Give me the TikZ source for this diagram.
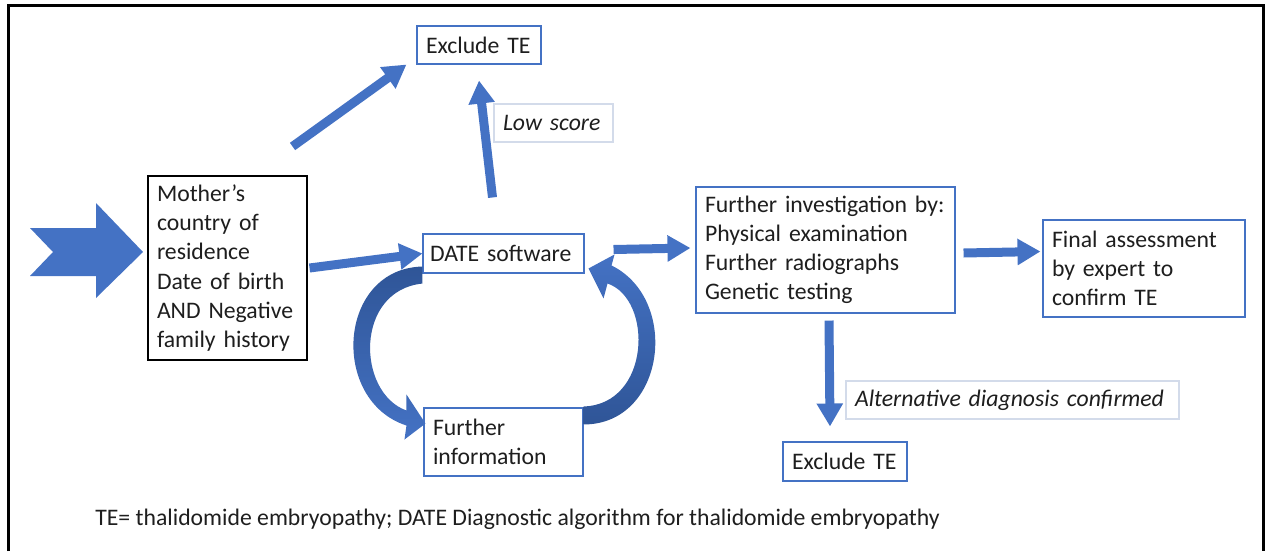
\documentclass[tikz,border=0pt]{standalone}
\usepackage{fontspec}
\setmainfont{Carlito}
\usetikzlibrary{arrows.meta,calc}
\definecolor{bluOffice}{HTML}{4472C4}
\definecolor{bluScuro}{HTML}{2F5597}
\definecolor{bordoTenue}{HTML}{D3DBEA}
\definecolor{testo}{HTML}{1E1E1E}
\newdimen\px \px=0.02cm
\hyphenpenalty=10000

\begin{document}
\begin{tikzpicture}[
			x=0.02cm, y=-0.02cm,
			font=\fontsize{13.5}{16.6}\selectfont, text=testo,
			riquadro/.style={draw=bluOffice, line width=0.6pt, fill=white,
				inner xsep=9\px, inner ysep=0pt, align=left},
			etichetta/.style={riquadro, draw=bordoTenue, line width=1.2pt,
				font=\fontsize{13.5}{16.6}\selectfont\itshape},
			freccia/.style={draw=bluOffice, line width=9\px,
				-{Triangle[length=0.46cm, width=0.5cm]}},
			curva/.style={draw=none}]
			\useasboundingbox (0,0) rectangle (1266,551);
			
			%% cornice
			\draw[line width=3\px] (8,551) -- (8,5) -- (1263,5) -- (1263,551);
			
			%% freccia di ingresso
			\fill[bluOffice] (30,228) -- (96,228) -- (96,203) -- (143,252)
				-- (96,298) -- (96,276) -- (30,276) -- (53,252) -- cycle;
			
			%% riquadri
			\node[riquadro, draw=black, text width=141\px, minimum height=184\px]
				(madre) at (227.5,268) {Mother’s\\country of\\residence\\Date of birth\\AND Negative\\family history};
			\node[riquadro, inner xsep=7\px, text width=147\px, minimum height=39\px] (date) at (503.5,253.5) {DATE software};
			\node[riquadro, text width=141\px, minimum height=68\px] (info) at (503.5,442) {Further\\information};
			\node[riquadro, text width=106\px, minimum height=38\px] (escl1) at (479,45) {Exclude TE};
			\node[etichetta, text width=101\px, minimum height=38\px] (basso) at (553.5,123) {Low score};
			\node[riquadro, text width=241\px, minimum height=126\px] (indagine) at (825.5,250)
				{Further investigation by:\\Physical examination\\Further radiographs\\Genetic testing};
			\node[riquadro, text width=184\px, minimum height=97\px] (finale) at (1144,268.5)
				{Final assessment\\by expert to\\confirm TE};
			\node[etichetta, text width=315\px, minimum height=38\px] (alt) at (1012.5,400) {Alternative diagnosis confirmed};
			\node[riquadro, text width=106\px, minimum height=39\px] (escl2) at (845,461.5) {Exclude TE};
			
			%% nota
			\node[anchor=west, inner sep=0pt] (nota) at (95,519)
				{TE= thalidomide embryopathy; DATE Diagnostic algorithm for thalidomide embryopathy};
			
			%% frecce dritte
			\draw[freccia] ($(madre.east)+(2,0)$) -- (date.west);
			\draw[freccia] ($(madre.north east)+(-15,-29)$) -- ($(escl1.south west)+(-10,0)$);
			\draw[freccia] ($(date.north)+(-11,-36)$) -- ($(escl1.south)+(0,16)$);
			\draw[freccia] ($(date.east)+(29,-4)$) -- ($(indagine.west)+(-5,-2)$);
			\draw[freccia] ($(indagine.east)+(8,3)$) -- ($(finale.west)+(-2,-17)$);
			\draw[freccia] ($(indagine.south)+(3.5,7)$) -- ($(escl2.north)+(-15,-15)$);
			
			%% ciclo DATE -- informazioni
			\begin{scope}[shift={(date.south west)}]
				\path[curva, top color=bluScuro, bottom color=bluOffice]
					(0,-7) .. controls (-85,-5) and (-93,127) .. (-16,152)
					-- (-18,166) -- (3,150) -- (-16,121) -- (-16,137)
					.. controls (-66,119) and (-68,17) .. (0,10) -- cycle;
			\end{scope}
			\begin{scope}[shift={(info.north east)}]
				\path[curva, top color=bluOffice, bottom color=bluScuro]
					(0,17) .. controls (82,17) and (97,-108) .. (28,-142)
					-- (31,-153) -- (5,-139) -- (20,-109) -- (24,-124)
					.. controls (70,-108) and (67,-3) .. (0,-1) -- cycle;
			\end{scope}
		\end{tikzpicture}
\end{document}
